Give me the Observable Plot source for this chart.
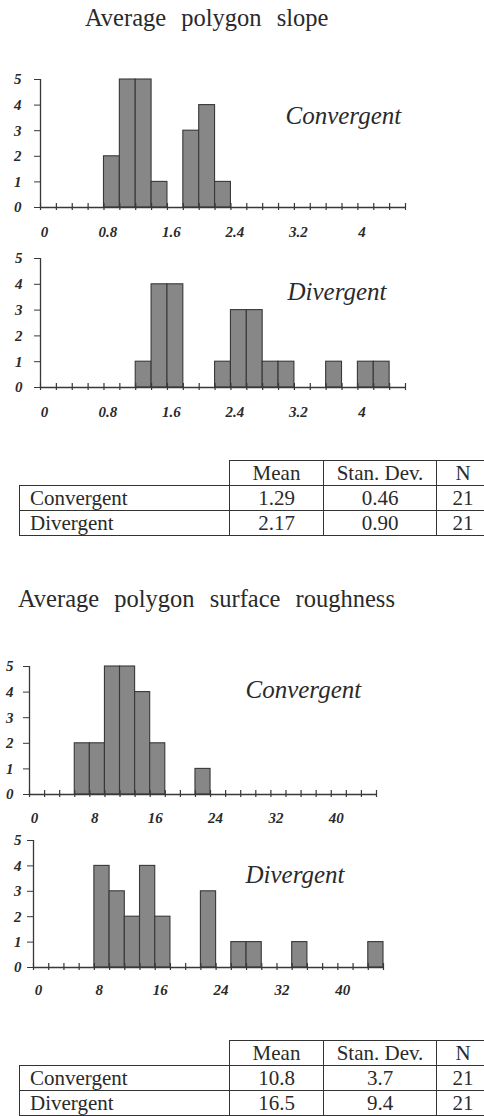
<!DOCTYPE html>
<html><head><meta charset="utf-8">
<script src="https://cdn.jsdelivr.net/npm/d3@7"></script>
<script src="https://cdn.jsdelivr.net/npm/@observablehq/plot@0.6"></script>
<style>
body{margin:0;background:#fff;}
#page{position:relative;width:484px;height:1116px;overflow:hidden;font-family:"Liberation Serif","Times New Roman",serif;color:#2a2a2a;background:#fff;}
.title{position:absolute;font-size:24.5px;line-height:24px;word-spacing:9px;white-space:nowrap;}
.panel{position:absolute;left:0;}
table.stats{position:absolute;left:19px;border-collapse:collapse;table-layout:fixed;width:470px;font-size:21px;line-height:1;}
table.stats td{border:1.5px solid #333;height:24px;padding:0;text-align:center;white-space:nowrap;}
table.stats td.lab{text-align:left;padding-left:10px;}
table.stats td.blank{border:none;border-bottom:1.5px solid #333;}
</style>
</head><body><div id="page"></div>
<script>
// ---- data ----
const title1 = "Average polygon slope";
const title2 = "Average polygon surface roughness";
const groups = ["Convergent", "Divergent"];
const statHeaders = ["Mean", "Stan. Dev.", "N"];

// slope histograms (bin lower edge, count), bin width 0.2
const slopeBinWidth = 0.2;
const slopeConvStart = [0.8, 1.0, 1.2, 1.4, 1.8, 2.0, 2.2];
const slopeConvCount = [2, 5, 5, 1, 3, 4, 1];
const slopeDivStart = [1.2, 1.4, 1.6, 2.2, 2.4, 2.6, 2.8, 3.0, 3.6, 4.0, 4.2];
const slopeDivCount = [1, 4, 4, 1, 3, 3, 1, 1, 1, 1, 1];
const slopeTickLabels = [0, 0.8, 1.6, 2.4, 3.2, 4];
const slopeMinorTicks = [0,0.2,0.4,0.6,0.8,1.0,1.2,1.4,1.6,1.8,2.0,2.2,2.4,2.6,2.8,3.0,3.2,3.4,3.6,3.8,4.0,4.2,4.4,4.6];

// roughness histograms, bin width 2
const roughBinWidth = 2;
const roughConvStart = [6, 8, 10, 12, 14, 16, 22];
const roughConvCount = [2, 2, 5, 5, 4, 2, 1];
const roughDivStart = [8, 10, 12, 14, 16, 22, 26, 28, 34, 44];
const roughDivCount = [4, 3, 2, 4, 2, 3, 1, 1, 1, 1];
const roughTickLabels = [0, 8, 16, 24, 32, 40];
const roughMinorTicks = [0,2,4,6,8,10,12,14,16,18,20,22,24,26,28,30,32,34,36,38,40,42,44,46];

const yTicks = [0, 1, 2, 3, 4, 5];

// summary tables
const slopeMean = ["1.29", "2.17"];
const slopeSD = ["0.46", "0.90"];
const slopeN = ["21", "21"];
const roughMean = ["10.8", "16.5"];
const roughSD = ["3.7", "9.4"];
const roughN = ["21", "21"];

// ---- rendering ----
const page = document.getElementById("page");
const ink = "#2a2a2a";

function addTitle(text, left, top) {
  const d = document.createElement("div");
  d.className = "title";
  d.textContent = text;
  d.style.left = left + "px";
  d.style.top = top + "px";
  page.appendChild(d);
}

function hist(o) {
  const data = o.starts.map((s, i) => ({x1: s, x2: s + o.binW, n: o.counts[i]}));
  const xMax = o.minor[o.minor.length - 1];
  const p = Plot.plot({
    width: o.w, height: o.h,
    marginLeft: o.mL, marginRight: o.mR, marginTop: o.mT, marginBottom: o.mB,
    x: {domain: [0, xMax]},
    y: {domain: [0, 5]},
    style: {background: "transparent", overflow: "visible", fontFamily: "Liberation Serif, serif",
            fontSize: "15px", fontWeight: "bold", fontStyle: "italic", color: ink},
    marks: [
      Plot.rect(data, {x1: "x1", x2: "x2", y1: d => 0, y2: "n", fill: "#878787", stroke: "#383838", strokeWidth: 1.1}),
      Plot.ruleY([0], {stroke: "#383838", strokeWidth: 1.3}),
      Plot.ruleX([0], {stroke: "#383838", strokeWidth: 1.3}),
      Plot.ruleX(o.minor, {x: d => d, y1: d => 0, y2: d => 0, insetTop: -4, insetBottom: -3, stroke: "#383838", strokeWidth: 1.2}),
      Plot.axisY({ticks: yTicks, tickSize: 6, tickPadding: o.yPad, label: null, tickFormat: d => String(d),
                  fontWeight: "bold", fontStyle: "italic", fontSize: 15, stroke: "#383838"}),
      Plot.axisX({ticks: o.labels, tickSize: 0, tickPadding: o.xPad, label: null, tickFormat: d => String(d),
                  fontWeight: "bold", fontStyle: "italic", fontSize: 15, dx: o.xDx}),
      Plot.text([o.name], {frameAnchor: "top-left", textAnchor: "start", lineAnchor: "bottom",
                           dx: o.nameDx, dy: o.nameDy, fontSize: 25, fontStyle: "italic", fontWeight: "normal",
                           fontFamily: "Liberation Serif, serif", fill: ink})
    ]
  });
  const wrap = document.createElement("div");
  wrap.className = "panel";
  wrap.style.top = o.top + "px";
  wrap.appendChild(p);
  page.appendChild(wrap);
}

function addTable(top, mean, sd, n) {
  const t = document.createElement("table");
  t.className = "stats";
  t.style.top = top + "px";
  const cg = document.createElement("colgroup");
  [210, 94, 113, 53].forEach(w => { const c = document.createElement("col"); c.style.width = w + "px"; cg.appendChild(c); });
  t.appendChild(cg);
  const hr = document.createElement("tr");
  const blank = document.createElement("td"); blank.className = "blank"; hr.appendChild(blank);
  statHeaders.forEach(h => { const td = document.createElement("td"); td.textContent = h; hr.appendChild(td); });
  t.appendChild(hr);
  groups.forEach((g, i) => {
    const tr = document.createElement("tr");
    const l = document.createElement("td"); l.className = "lab"; l.textContent = g; tr.appendChild(l);
    [mean[i], sd[i], n[i]].forEach(v => { const td = document.createElement("td"); td.textContent = v; tr.appendChild(td); });
    t.appendChild(tr);
  });
  page.appendChild(t);
}

addTitle(title1, 85, 6);
hist({starts: slopeConvStart, counts: slopeConvCount, binW: slopeBinWidth, minor: slopeMinorTicks, labels: slopeTickLabels,
      name: groups[0], top: 60, w: 420, h: 180, mL: 40, mR: 15, mT: 19, mB: 33, yPad: 13, xPad: 19, xDx: 4, nameDx: 245, nameDy: 44});
hist({starts: slopeDivStart, counts: slopeDivCount, binW: slopeBinWidth, minor: slopeMinorTicks, labels: slopeTickLabels,
      name: groups[1], top: 240, w: 420, h: 180, mL: 40, mR: 15, mT: 18, mB: 33, yPad: 12, xPad: 19, xDx: 4, nameDx: 247, nameDy: 41});
addTable(460, slopeMean, slopeSD, slopeN);

addTitle(title2, 18, 587);
hist({starts: roughConvStart, counts: roughConvCount, binW: roughBinWidth, minor: roughMinorTicks, labels: roughTickLabels,
      name: groups[0], top: 650, w: 390, h: 175, mL: 29, mR: 14, mT: 16, mB: 31, yPad: 10, xPad: 18, xDx: 5, nameDx: 216, nameDy: 31});
hist({starts: roughDivStart, counts: roughDivCount, binW: roughBinWidth, minor: roughMinorTicks, labels: roughTickLabels,
      name: groups[1], top: 820, w: 400, h: 180, mL: 33, mR: 17, mT: 20, mB: 33, yPad: 6, xPad: 17, xDx: 5, nameDx: 212, nameDy: 42});
addTable(1040, roughMean, roughSD, roughN);
</script>
</body></html>
